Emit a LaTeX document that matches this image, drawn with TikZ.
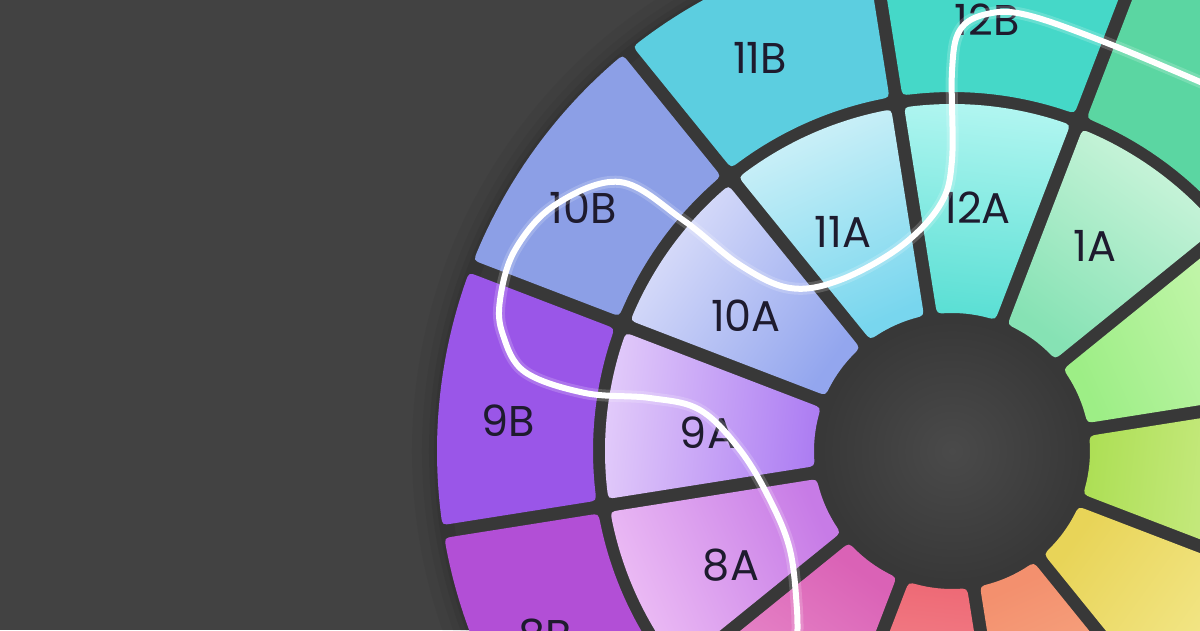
\documentclass[tikz,border=0pt]{standalone}
\usepackage{fontspec}
\setmainfont{Poppins}
\usetikzlibrary{calc}
\definecolor{bgc}{HTML}{424242}
\definecolor{gapc}{HTML}{383838}
\definecolor{labc}{HTML}{1E1B2E}
\def\gapw{6.5}
\def\crn{10}
\newcommand{\wtile}[5]{%
 \path[#5] ($({#1}:{#4-\crn})+({#1+90}:\gapw)$)
   .. controls ($({#1}:{#4})+({#1+90}:\gapw)$) .. ({#1+asin(\gapw/#4)+\crn/#4*57.2958}:{#4})
   arc[start angle={#1+asin(\gapw/#4)+\crn/#4*57.2958}, end angle={#2-asin(\gapw/#4)-\crn/#4*57.2958}, radius=#4]
   .. controls ($({#2}:{#4})+({#2-90}:\gapw)$) .. ($({#2}:{#4-\crn})+({#2-90}:\gapw)$)
   -- ($({#2}:{#3+\crn})+({#2-90}:\gapw)$)
   .. controls ($({#2}:{#3})+({#2-90}:\gapw)$) .. ({#2-asin(\gapw/#3)-\crn/#3*57.2958}:{#3})
   arc[start angle={#2-asin(\gapw/#3)-\crn/#3*57.2958}, end angle={#1+asin(\gapw/#3)+\crn/#3*57.2958}, radius=#3]
   .. controls ($({#1}:{#3})+({#1+90}:\gapw)$) .. ($({#1}:{#3+\crn})+({#1+90}:\gapw)$)
   -- cycle;}
% B tile: start, end, colour
\newcommand{\btile}[3]{\definecolor{tmpb}{HTML}{#3}\wtile{#1}{#2}{359}{515}{fill=tmpb}}
% A tile: start, end, outer colour, inner colour
\newcommand{\atile}[4]{\definecolor{tmpo}{HTML}{#3}\definecolor{tmpi}{HTML}{#4}\wtile{#1}{#2}{138}{347}{top color=tmpo, bottom color=tmpi, shading angle={(#1+#2)/2-90}}}
\tikzset{lab/.style={font=\fontsize{43}{43}\selectfont, text=labc, inner sep=0pt},
  wave/.style={white, line width=6pt, line cap=round}}
\begin{document}
\begin{tikzpicture}[x=1pt,y=1pt]
\useasboundingbox (-952,-179) rectangle (248,451);
\clip (-952,-179) rectangle (248,451);
\fill[bgc] (-952,-179) rectangle (248,451);
% soft shadow around the wheel
\foreach \r/\o in {540/0.03,530/0.04,523/0.05,518/0.06}{\fill[black, opacity=\o] (0,0) circle[radius=\r];}
\fill[gapc] (0,0) circle[radius=503];
% outer ring
\btile{39}{69}{5BD6A2}
\btile{69}{99}{45D8C8}
\btile{99}{129}{5CCEE0}
\btile{129}{159}{8C9FE6}
\btile{159}{189}{9A56E8}
\btile{189}{219}{B24FD6}
\btile{219}{249}{D45BB8}
% inner ring
\atile{39}{69}{CDF5DC}{86E2B4}
\atile{69}{99}{B2F6F1}{5ADFD4}
\atile{99}{129}{CFF1F8}{78D6EE}
\atile{129}{159}{DCDFFA}{93A6EE}
\atile{159}{189}{E2CBFA}{AC7CF2}
\atile{189}{219}{EDBEF5}{C77BE6}
\atile{219}{249}{EE9BD2}{DA62B6}
\atile{249}{279}{F8A0A4}{EE6A76}
\atile{279}{309}{F9B891}{F3906E}
\atile{309}{339}{F6EC96}{E8D458}
\atile{339}{369}{D6F09A}{ADDF55}
\atile{9}{39}{CFF8B6}{9DEE86}
% hole
\shade[inner color=gray!58!black, outer color=gapc] (0,0) circle[radius=131];
% labels
\node[lab] (l12b) at (35,431) {12B};
\node[lab] (l11b) at (-192,393) {11B};
\node[lab] (l10b) at (-369,243) {10B};
\node[lab] (l9b) at (-444,30) {9B};
\node[lab] (l8b) at (-407,-184) {8B};
\node[lab] (l12a) at (25,243) {12A};
\node[lab] (l1a) at (143,205) {1A};
\node[lab] (l11a) at (-109,219) {11A};
\node[lab] (l10a) at (-206,135) {10A};
\node[lab] (l9a) at (-244,18) {9A};
\node[lab] (l8a) at (-221,-114) {8A};
% white wave
\def\wavepath{plot[smooth, tension=0.6] coordinates {(260,364) (155,408) (75,436) (35,437) (8,421) (0,380) (0,291) (-12,246) (-52,204) (-112,171) (-162,163) (-212,186) (-269,231) (-332,269) (-397,246) (-437,201) (-452,151) (-449,116) (-427,79) (-367,58) (-302,53) (-252,41) (-212,1) (-182,-49) (-162,-99) (-155,-159) (-155,-195)}}
\draw[white, opacity=0.18, line width=12pt] \wavepath;
\draw[wave] \wavepath;
\end{tikzpicture}
\end{document}
